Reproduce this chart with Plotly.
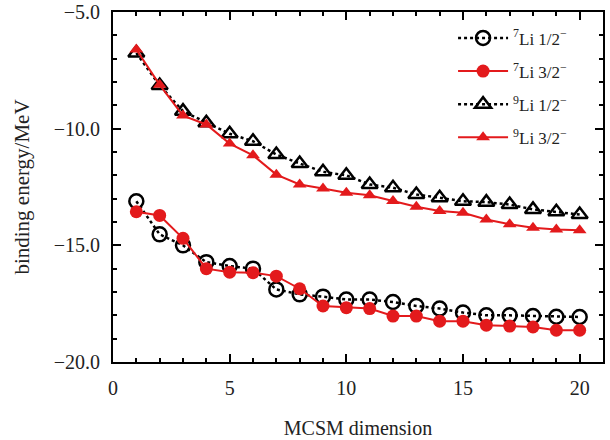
import plotly.graph_objects as go

dims = list(range(1, 21))

li7_half = [-13.11, -14.53, -15.0, -15.72, -15.89, -16.0, -16.89, -17.1, -17.2, -17.32,
            -17.32, -17.43, -17.6, -17.71, -17.88, -18.0, -18.0, -18.03, -18.06, -18.07]
li7_three = [-13.56, -13.72, -14.7, -16.0, -16.15, -16.17, -16.32, -16.86, -17.6, -17.67,
             -17.71, -18.03, -18.03, -18.25, -18.25, -18.42, -18.46, -18.5, -18.64, -18.64]
li9_half = [-6.76, -8.15, -9.25, -9.75, -10.22, -10.54, -11.11, -11.49, -11.85, -12.0,
            -12.39, -12.53, -12.82, -12.96, -13.11, -13.15, -13.25, -13.46, -13.56, -13.68]
li9_three = [-6.61, -8.12, -9.44, -9.82, -10.64, -11.14, -11.97, -12.39, -12.56, -12.75,
             -12.85, -13.1, -13.35, -13.53, -13.6, -13.89, -14.1, -14.25, -14.32, -14.35]

names = ["<sup>7</sup>Li 1/2<sup>−</sup>", "<sup>7</sup>Li 3/2<sup>−</sup>",
         "<sup>9</sup>Li 1/2<sup>−</sup>", "<sup>9</sup>Li 3/2<sup>−</sup>"]

RED = "#e31a1c"
FONT = "Liberation Serif"

fig = go.Figure()
fig.add_trace(go.Scatter(x=dims, y=li7_half, name=names[0], legendgroup="a",
                         mode="lines+markers",
                         line=dict(color="black", width=2.5, dash="dot"),
                         marker=dict(symbol="circle-open", size=14, color="black",
                                     line=dict(width=2.5, color="black"))))
fig.add_trace(go.Scatter(x=dims, y=li7_three, name=names[1], legendgroup="b",
                         mode="lines+markers",
                         line=dict(color=RED, width=2),
                         marker=dict(symbol="circle", size=13, color=RED)))
fig.add_trace(go.Scatter(x=dims, y=li9_half, name=names[2], legendgroup="c",
                         mode="lines+markers",
                         line=dict(color="black", width=2.5, dash="dot"),
                         marker=dict(symbol="triangle-up-open", size=14, color="black",
                                     line=dict(width=2.5, color="black"))))
fig.add_trace(go.Scatter(x=dims, y=li9_three, name=names[3], legendgroup="d",
                         mode="lines+markers",
                         line=dict(color=RED, width=2),
                         marker=dict(symbol="triangle-up", size=12, color=RED)))

axis_common = dict(
    showline=True, linecolor="black", linewidth=2, mirror="allticks",
    ticks="inside", ticklen=8, tickwidth=2, tickcolor="black",
    showgrid=False, zeroline=False, automargin=False, ticklabelstandoff=7,
    ticklabeloverflow="allow",
    tickfont=dict(family=FONT, size=20, color="#222"),
)

fig.update_xaxes(range=[0, 21], tickvals=[0, 5, 10, 15, 20],
                 minor=dict(dtick=1, ticks="inside", ticklen=4, tickwidth=2, tickcolor="black"),
                 title=dict(text="MCSM dimension", font=dict(family=FONT, size=20, color="#222"),
                            standoff=23),
                 **axis_common)
fig.update_yaxes(range=[-20, -5], tickvals=[-20, -15, -10, -5], tickformat=".1f",
                 minor=dict(dtick=1, ticks="inside", ticklen=4, tickwidth=2, tickcolor="black"),
                 title=dict(text="binding energy/MeV", font=dict(family=FONT, size=21, color="#222"),
                            standoff=18),
                 **axis_common)

fig.update_layout(
    width=610, height=440,
    margin=dict(l=113, r=7, t=12, b=78),
    plot_bgcolor="white", paper_bgcolor="white",
    font=dict(family=FONT, size=20, color="#222"),
    legend=dict(x=0.694, y=0.976, xanchor="left", yanchor="top",
                bgcolor="rgba(0,0,0,0)", tracegroupgap=8, itemwidth=50,
                traceorder="grouped",
                font=dict(family=FONT, size=17, color="#222")),
)

fig.write_html("out.html", config={"displayModeBar": False},
               post_script="document.body.style.margin='0';")
